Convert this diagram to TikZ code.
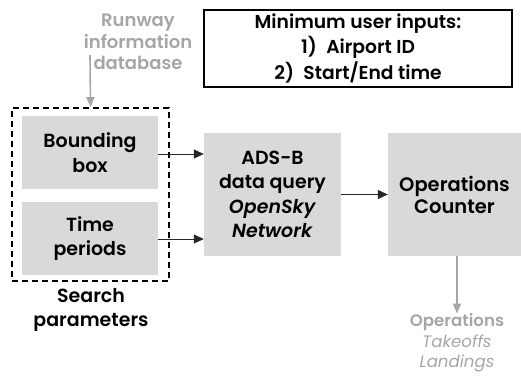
\documentclass[tikz,border=0pt]{standalone}
\usepackage{fontspec}
\setmainfont{Poppins}[BoldFont={Poppins SemiBold},BoldItalicFont={Poppins SemiBold Italic}]
\usetikzlibrary{arrows.meta}
\definecolor{boxgray}{HTML}{D9D9D9}
\definecolor{txtgray}{HTML}{A6A6A6}
\begin{document}
\begin{tikzpicture}[x=1pt,y=-1pt,
  graybox/.style={fill=boxgray,draw=none,align=center,inner sep=0pt,font=\fontsize{19}{24.5}\selectfont\bfseries},
  arr/.style={-{Triangle[length=10pt,width=9pt]},line width=0.8pt,black!85},
  garr/.style={-{Triangle[length=10pt,width=8pt]},line width=1.6pt,txtgray},
  lbl/.style={align=center,inner sep=0pt}]
\useasboundingbox (0,0) rectangle (521,376);
\node[draw,line width=1.6pt,minimum width=308pt,minimum height=77pt,inner sep=0pt,align=center,
  font=\fontsize{18.7}{25.5}\selectfont\bfseries] (top) at (358,48.5)
  {Minimum user inputs:\\1)\enspace Airport ID\\2)\enspace Start/End time};
\node[lbl,text=txtgray,font=\fontsize{18}{21.5}\selectfont\bfseries] (rw) at (138,42) {Runway\\information\\database};
\coordinate (rwc) at (90,55);
\node[draw,line width=1.6pt,dash pattern=on 6pt off 4pt,minimum width=157pt,minimum height=173pt,inner sep=0pt] (dash) at (90.5,194.5) {};
\node[graybox,minimum width=136pt,minimum height=73pt] (bb) at (90,152.5) {Bounding\\box};
\node[graybox,minimum width=136pt,minimum height=73pt] (tp) at (90,238.5) {Time\\periods};
\node[lbl,font=\fontsize{19}{24}\selectfont\bfseries] (sp) at (91,310) {Search\\parameters};
\node[graybox,minimum width=137pt,minimum height=123pt] (ads) at (272.5,194.5) {ADS-B\\data query\\\textit{OpenSky}\\\textit{Network}};
\node[graybox,minimum width=133pt,minimum height=123pt,font=\fontsize{19.5}{22}\selectfont\bfseries] (ops) at (454.5,194.5) {Operations\\Counter};
\node[lbl,text=txtgray,font=\fontsize{16.6}{20.5}\selectfont] (out) at (457,343) {\textbf{Operations}\\\textit{Takeoffs}\\\textit{Landings}};
\draw[garr] (rwc) -- (dash.north);
\draw[arr] (bb.east |- 0,154) -- (ads.west |- 0,154);
\draw[arr] (tp.east |- 0,239) -- (ads.west |- 0,239);
\draw[arr] (ads) -- (ops);
\draw[garr] (ops.south -| 457,0) -- (out.north -| 457,0);
\end{tikzpicture}
\end{document}
